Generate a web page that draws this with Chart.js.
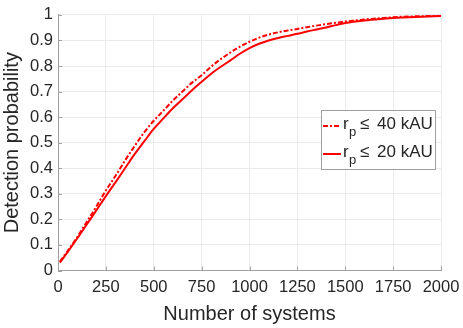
<!DOCTYPE html>
<html>
<head>
<meta charset="utf-8">
<script src="https://cdn.jsdelivr.net/npm/chart.js@4/dist/chart.umd.min.js"></script>
<style>
  html, body { margin: 0; padding: 0; background: #fff; }
</style>
</head>
<body>
<canvas id="detChart" width="463" height="328"></canvas>
<script>
// values
const systems = [10, 50, 100, 150, 200, 250, 300, 350, 400, 450, 500, 550, 600, 650, 700, 750,
  800, 850, 900, 950, 1000, 1050, 1100, 1150, 1200, 1250, 1300, 1350, 1400, 1450, 1500,
  1600, 1700, 1750, 1800, 1900, 2000];
const prob40 = [0.035, 0.076, 0.13, 0.19, 0.25, 0.313, 0.37, 0.43, 0.487, 0.54, 0.586, 0.625, 0.665,
  0.70, 0.735, 0.764, 0.798, 0.827, 0.853, 0.876, 0.895, 0.911, 0.923, 0.932, 0.939, 0.945,
  0.952, 0.958, 0.964, 0.969, 0.974, 0.982, 0.988, 0.991, 0.993, 0.995, 0.997];
const prob20 = [0.031, 0.072, 0.125, 0.18, 0.235, 0.291, 0.345, 0.40, 0.455, 0.505, 0.554, 0.595,
  0.635, 0.67, 0.705, 0.738, 0.77, 0.797, 0.822, 0.848, 0.87, 0.887, 0.90, 0.91, 0.918,
  0.926, 0.935, 0.943, 0.951, 0.96, 0.968, 0.978, 0.985, 0.988, 0.99, 0.993, 0.996];
const xTicks = [0, 250, 500, 750, 1000, 1250, 1500, 1750, 2000];
const yTicks = [0, 0.1, 0.2, 0.3, 0.4, 0.5, 0.6, 0.7, 0.8, 0.9, 1];
const legendLabels = ['40 kAU', '20 kAU'];

const FONT = '"Liberation Sans", Arial, Helvetica, sans-serif';
const TEXT = '#262626';
const AXIS = '#a0a0a0';

function toPoints(ys) {
  return systems.map((x, i) => ({ x: x, y: ys[i] }));
}

// legend with subscript, MATLAB style box
const legendBox = {
  id: 'legendBox',
  afterDraw(chart) {
    const ctx = chart.ctx;
    ctx.save();
    const bx = 321, by = 110, bw = 114, bh = 59;
    ctx.fillStyle = '#fff';
    ctx.fillRect(bx, by, bw, bh);
    ctx.strokeStyle = AXIS;
    ctx.lineWidth = 1;
    ctx.strokeRect(bx + 0.5, by + 0.5, bw, bh);
    chart.data.datasets.forEach((ds, i) => {
      const ly = 126 + i * 28;
      ctx.strokeStyle = ds.borderColor;
      ctx.lineWidth = ds.borderWidth;
      ctx.setLineDash(ds.borderDash || []);
      ctx.beginPath();
      ctx.moveTo(323, ly);
      ctx.lineTo(341, ly);
      ctx.stroke();
      ctx.setLineDash([]);
      ctx.fillStyle = TEXT;
      ctx.textBaseline = 'alphabetic';
      ctx.textAlign = 'left';
      ctx.font = '17px ' + FONT;
      ctx.fillText('r', 343, ly + 3);
      ctx.font = '13px ' + FONT;
      ctx.fillText('p', 349, ly + 10);
      ctx.font = '17px ' + FONT;
      ctx.fillText('\u2264', 360, ly + 3);
      ctx.fillText(legendLabels[i], 377, ly + 3);
    });
    ctx.restore();
  }
};

// small inward tick marks
const innerTicks = {
  id: 'innerTicks',
  afterDatasetsDraw(chart) {
    const ctx = chart.ctx, xs = chart.scales.x, ys = chart.scales.y;
    ctx.save();
    ctx.strokeStyle = AXIS;
    ctx.lineWidth = 1;
    ctx.beginPath();
    xTicks.forEach(v => {
      const px = Math.round(xs.getPixelForValue(v)) + 0.5;
      ctx.moveTo(px, ys.bottom);
      ctx.lineTo(px, ys.bottom - 4);
    });
    yTicks.forEach(v => {
      const py = Math.round(ys.getPixelForValue(v)) + 0.5;
      ctx.moveTo(xs.left, py);
      ctx.lineTo(xs.left + 4, py);
    });
    ctx.stroke();
    ctx.restore();
  }
};

const ctx = document.getElementById('detChart').getContext('2d');
new Chart(ctx, {
  type: 'line',
  data: {
    datasets: [{
      label: 'rp \u2264 40 kAU',
      data: toPoints(prob40),
      borderColor: '#ff0000',
      borderWidth: 2,
      borderDash: [5, 2, 2, 2],
      pointRadius: 0,
      cubicInterpolationMode: 'monotone',
      fill: false,
    }, {
      label: 'rp \u2264 20 kAU',
      data: toPoints(prob20),
      borderColor: '#ff0000',
      borderWidth: 2,
      pointRadius: 0,
      cubicInterpolationMode: 'monotone',
      fill: false,
    }],
  },
  options: {
    responsive: false,
    animation: false,
    devicePixelRatio: 1,
    layout: { padding: { top: 8, right: 22, left: 0, bottom: 0 } },
    plugins: {
      legend: { display: false },
      tooltip: { enabled: false },
    },
    scales: {
      x: {
        type: 'linear',
        min: 0,
        max: 2000,
        afterBuildTicks: s => { s.ticks = xTicks.map(v => ({ value: v })); },
        afterFit: s => { s.height = 57.5; s.paddingLeft = 0; s.paddingRight = 0; },
        grid: { color: '#ebebeb', drawTicks: false },
        border: { color: AXIS },
        ticks: {
          padding: 7,
          color: TEXT,
          font: { family: FONT, size: 16.5 },
          maxRotation: 0,
          callback: v => String(v),
        },
        title: {
          display: true,
          text: 'Number of systems',
          color: TEXT,
          font: { family: FONT, size: 20 },
          padding: { top: 0, bottom: 2 },
        },
      },
      y: {
        min: 0,
        max: 1,
        afterBuildTicks: s => { s.ticks = yTicks.map(v => ({ value: v })); },
        afterFit: s => { s.width = 58; },
        grid: { color: '#ebebeb', drawTicks: false },
        border: { color: AXIS },
        ticks: {
          padding: 5,
          color: TEXT,
          font: { family: FONT, size: 16.5 },
          callback: v => String(+v.toFixed(1)),
        },
        title: {
          display: true,
          text: 'Detection probability',
          color: TEXT,
          font: { family: FONT, size: 20 },
          padding: 0,
        },
      },
    },
  },
  plugins: [innerTicks, legendBox],
});
</script>
</body>
</html>
